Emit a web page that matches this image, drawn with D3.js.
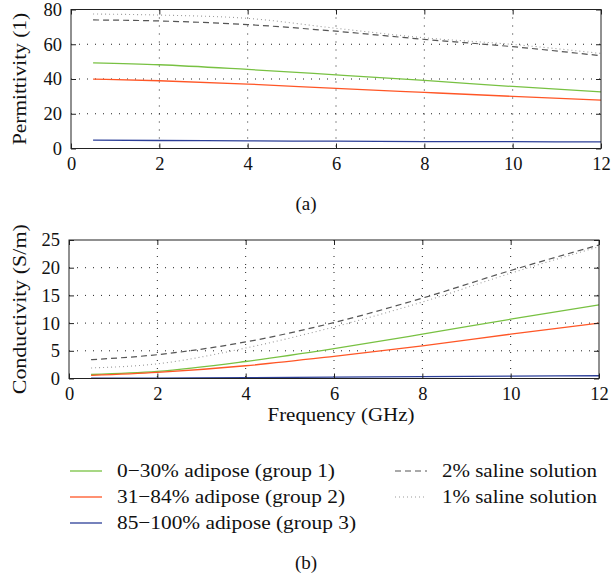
<!DOCTYPE html>
<html><head><meta charset="utf-8">
<script src="https://cdn.jsdelivr.net/npm/d3@7"></script>
<style>
body{margin:0;background:#fff;}
</style></head>
<body><svg id="c" width="611" height="575"></svg>
<script>
const freq = [0.5, 2, 4, 6, 8, 10, 12];
const xTicks = [0, 2, 4, 6, 8, 10, 12];
const permTicks = [0, 20, 40, 60, 80];
const condTicks = [0, 5, 10, 15, 20, 25];
const seriesNames = ["0\u221230% adipose (group 1)", "31\u221284% adipose (group 2)", "85\u2212100% adipose (group 3)", "2% saline solution", "1% saline solution"];
const permGroup1 = [49.3, 48.2, 45.5, 42.4, 39.2, 35.7, 32.6];
const permGroup2 = [39.9, 39.0, 37.1, 34.6, 32.3, 30.0, 27.8];
const permGroup3 = [4.8, 4.6, 4.4, 4.2, 4.0, 3.9, 3.8];
const permSaline2 = [74.0, 73.4, 71.3, 67.5, 62.8, 58.6, 53.4];
const permSaline1 = [77.4, 76.8, 74.9, 69.2, 63.7, 59.9, 54.7];
const condGroup1 = [0.72, 1.27, 3.07, 5.4, 8.0, 10.7, 13.3];
const condGroup2 = [0.55, 1.1, 2.3, 4.0, 5.9, 8.0, 10.0];
const condGroup3 = [0.05, 0.08, 0.15, 0.25, 0.35, 0.42, 0.5];
const condSaline2 = [3.4, 4.3, 6.6, 10.1, 14.5, 19.5, 24.1];
const condSaline1 = [1.9, 2.65, 5.5, 9.3, 13.8, 19.0, 23.8];

const FONT = '"Liberation Serif","Times New Roman",serif';
const styles = [
  {color:"#78c142", dash:null, w:1.3},
  {color:"#ff5626", dash:null, w:1.3},
  {color:"#2c3f98", dash:null, w:1.3},
  {color:"#555555", dash:"6,4", w:1.2},
  {color:"#9a9a9a", dash:"1,3", w:1.1}
];

const svg = d3.select("#c");

function label(x, y, txt, len, anchor, rot, size){
  const t = svg.append("text")
    .attr("text-anchor", anchor || "start")
    .style("font-family", FONT).style("font-size", (size || 19) + "px").attr("fill", "#111")
    .text(txt);
  if (rot) t.attr("transform", `translate(${x},${y}) rotate(${rot})`);
  else t.attr("x", x).attr("y", y);
  if (len) t.attr("textLength", len).attr("lengthAdjust", "spacingAndGlyphs");
  return t;
}

function panel(opt){
  const {L,R,T,B,yDomain,yTicks,data} = opt;
  const x = d3.scaleLinear().domain([0,12]).range([L,R]);
  const y = d3.scaleLinear().domain(yDomain).range([B,T]);
  const g = svg.append("g");
  g.selectAll(".gx").data(xTicks.slice(1,-1)).join("line")
    .attr("x1",d=>x(d)).attr("x2",d=>x(d)).attr("y1",T).attr("y2",B)
    .attr("stroke","#222").attr("stroke-width",1).attr("stroke-dasharray","1,7");
  g.selectAll(".gy").data(yTicks.slice(1,-1)).join("line")
    .attr("x1",L).attr("x2",R).attr("y1",d=>y(d)).attr("y2",d=>y(d))
    .attr("stroke","#222").attr("stroke-width",1).attr("stroke-dasharray","1,7");
  const line = d3.line().x((d,i)=>x(freq[i])).y(d=>y(d)).curve(d3.curveMonotoneX);
  data.forEach((s,i)=>{
    g.append("path").attr("d",line(s)).attr("fill","none")
      .attr("stroke",styles[i].color).attr("stroke-width",styles[i].w)
      .attr("stroke-dasharray",styles[i].dash);
  });
  const ax = g.append("g").attr("transform",`translate(0,${B})`)
    .call(d3.axisBottom(x).tickValues(xTicks).tickSize(-5).tickPadding(8).tickSizeOuter(0));
  const axt = g.append("g").attr("transform",`translate(0,${T})`)
    .call(d3.axisTop(x).tickValues(xTicks).tickSize(-5).tickFormat("").tickSizeOuter(0));
  const ay = g.append("g").attr("transform",`translate(${L},0)`)
    .call(d3.axisLeft(y).tickValues(yTicks).tickSize(-5).tickPadding(9).tickSizeOuter(0));
  const ayr = g.append("g").attr("transform",`translate(${R},0)`)
    .call(d3.axisRight(y).tickValues(yTicks).tickSize(-5).tickFormat("").tickSizeOuter(0));
  [ax,axt,ay,ayr].forEach(a=>{
    a.select(".domain").remove();
    a.selectAll("line").attr("stroke","#222");
    a.selectAll("text").style("font-family",FONT).style("font-size","18.5px").attr("fill","#111");
  });
  g.append("rect").attr("x",L).attr("y",T).attr("width",R-L).attr("height",B-T)
    .attr("fill","none").attr("stroke","#222").attr("stroke-width",1);
  label(opt.yLabelX, (T+B)/2, opt.yLabel, opt.yLabelLen, "middle", -90);
  return {x,y};
}

panel({L:71,R:601,T:9.5,B:148.5,yDomain:[0,80],yTicks:permTicks,
  data:[permGroup1,permGroup2,permGroup3,permSaline2,permSaline1],
  yLabel:"Permittivity (1)",yLabelX:26,yLabelLen:132});
panel({L:69,R:599,T:240,B:378.5,yDomain:[0,25],yTicks:condTicks,
  data:[condGroup1,condGroup2,condGroup3,condSaline2,condSaline1],
  yLabel:"Conductivity (S/m)",yLabelX:26,yLabelLen:170});

label(306, 210, "(a)", null, "middle");
label(341, 421, "Frequency (GHz)", 147, "middle");
label(306, 569, "(b)", null, "middle");

const legPos = [[70,471],[70,497],[70,523],[395,471],[395,497]];
const legLen = [218, 228, 239, 155, 155];
seriesNames.forEach((n,i)=>{
  const [lx,ly] = legPos[i];
  svg.append("line").attr("x1",lx).attr("x2",lx+32).attr("y1",ly).attr("y2",ly)
    .attr("stroke",styles[i].color).attr("stroke-width",styles[i].w).attr("stroke-dasharray",styles[i].dash);
  label(lx+47, ly+6, n, legLen[i], "start");
});
</script></body></html>
